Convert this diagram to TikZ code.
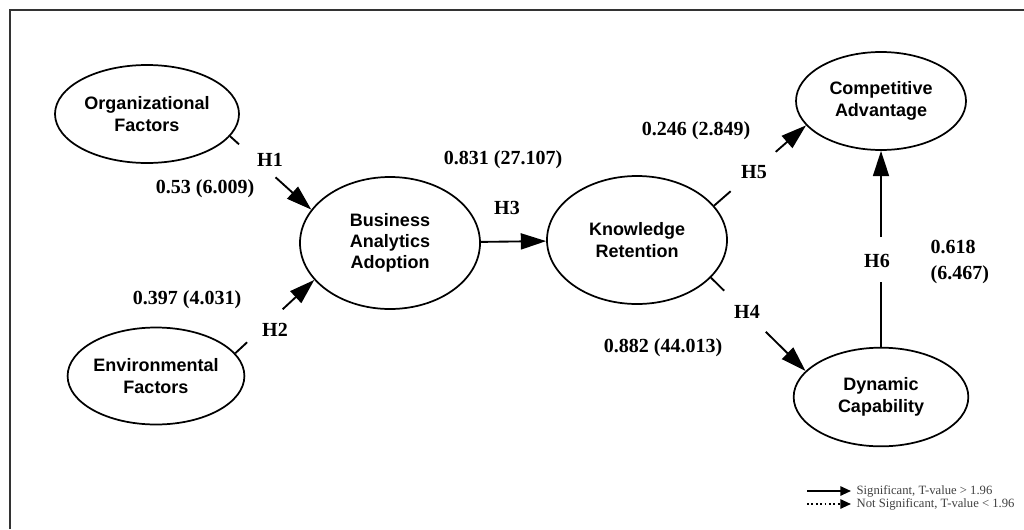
\documentclass[tikz,border=0pt]{standalone}
\usepackage{fontspec}
\setmainfont{Liberation Serif}
\setsansfont{Liberation Sans}
\usetikzlibrary{shapes.geometric,arrows.meta}
\begin{document}
\begin{tikzpicture}[x=0.75pt,y=-0.75pt]
\tikzset{
  construct/.style={ellipse, draw, line width=1.3pt, inner sep=0pt, align=center,
    font=\sffamily\bfseries\fontsize{13.5}{16}\selectfont},
  conn/.style={line width=1.4pt},
  tip/.style={-{Triangle[length=19pt,width=12pt]}},
  hyp/.style={font=\bfseries\fontsize{15}{17}\selectfont},
  coef/.style={font=\bfseries\fontsize{15}{19}\selectfont},
  legend/.style={font=\fontsize{9.5}{10}\selectfont, text=black!75, inner xsep=4pt, inner ysep=1pt},
  legtip/.style={-{Triangle[length=8pt,width=7pt]}},
}
\useasboundingbox (0,0) rectangle (1024,529);
\draw[line width=1.5pt, black!80] (10,529) -- (10,10) -- (1024,10);

% constructs
\node[construct, minimum width=138pt, minimum height=73.5pt] (org) at (147,114) {Organizational\\Factors};
\node[construct, minimum width=130.5pt, minimum height=72.75pt] (env) at (156,376) {Environmental\\Factors};
\node[construct, minimum width=135pt, minimum height=99pt] (baa) at (390,243) {Business\\Analytics\\Adoption};
\node[construct, minimum width=135pt, minimum height=96pt] (kr) at (637,240) {Knowledge\\Retention};
\node[construct, minimum width=127.5pt, minimum height=73.5pt] (ca) at (881,101) {Competitive\\Advantage};
\node[construct, minimum width=131pt, minimum height=74pt] (dc) at (881,397) {Dynamic\\Capability};

% H1
\path (org.-15) -- coordinate[pos=0.11] (h1a) coordinate[pos=0.56] (h1b) (baa.157);
\draw[conn] (org.-15) -- (h1a);
\draw[conn,tip] (h1b) -- (baa.157);
% H2
\path (env.16) -- coordinate[pos=0.15] (h2a) coordinate[pos=0.6] (h2b) (baa.206);
\draw[conn] (env.16) -- (h2a);
\draw[conn,tip] (h2b) -- (baa.206);
% H3
\draw[conn,tip] (baa) -- (kr);
% H4
\path (kr.-27) -- coordinate[pos=0.14] (h4a) coordinate[pos=0.58] (h4b) (dc.161);
\draw[conn] (kr.-27) -- (h4a);
\draw[conn,tip] (h4b) -- (dc.161);
% H5
\path (kr.24) -- coordinate[pos=0.18] (h5a) coordinate[pos=0.67] (h5b) (ca.198);
\draw[conn] (kr.24) -- (h5a);
\draw[conn,tip] (h5b) -- (ca.198);
% H6
\path (dc.north) -- coordinate[pos=0.33] (h6a) coordinate[pos=0.56] (h6b) (ca.south);
\draw[conn] (dc.north) -- (h6a);
\draw[conn,tip] (h6b) -- (ca.south);

% labels
\node[hyp] (lh1) at (270,160) {H1};
\node[coef] (c1) at (205,189) {0.53 (6.009)};
\node[hyp] (lh2) at (275,330) {H2};
\node[coef] (c2) at (187,300) {0.397 (4.031)};
\node[hyp] (lh3) at (507,208) {H3};
\node[coef] (c3) at (503,160) {0.831 (27.107)};
\node[hyp] (lh4) at (747,312) {H4};
\node[coef] (c4) at (663,348) {0.882 (44.013)};
\node[hyp] (lh5) at (754,172) {H5};
\node[coef] (c5) at (696,131) {0.246 (2.849)};
\node[hyp] (lh6) at (877,261) {H6};
\node[coef, align=left, anchor=west] (c6) at (926,262) {0.618\\(6.467)};

% legend
\node[legend, anchor=west] (lg1) at (851,491) {Significant, T-value > 1.96};
\node[legend, anchor=west] (lg2) at (851,504) {Not Significant, T-value < 1.96};
\coordinate (ls1) at (807,491);
\coordinate (ls2) at (807,504);
\draw[line width=1.3pt, legtip] (ls1) -- (lg1.west);
\draw[line width=1.3pt, dotted, legtip] (ls2) -- (lg2.west);
\end{tikzpicture}
\end{document}
